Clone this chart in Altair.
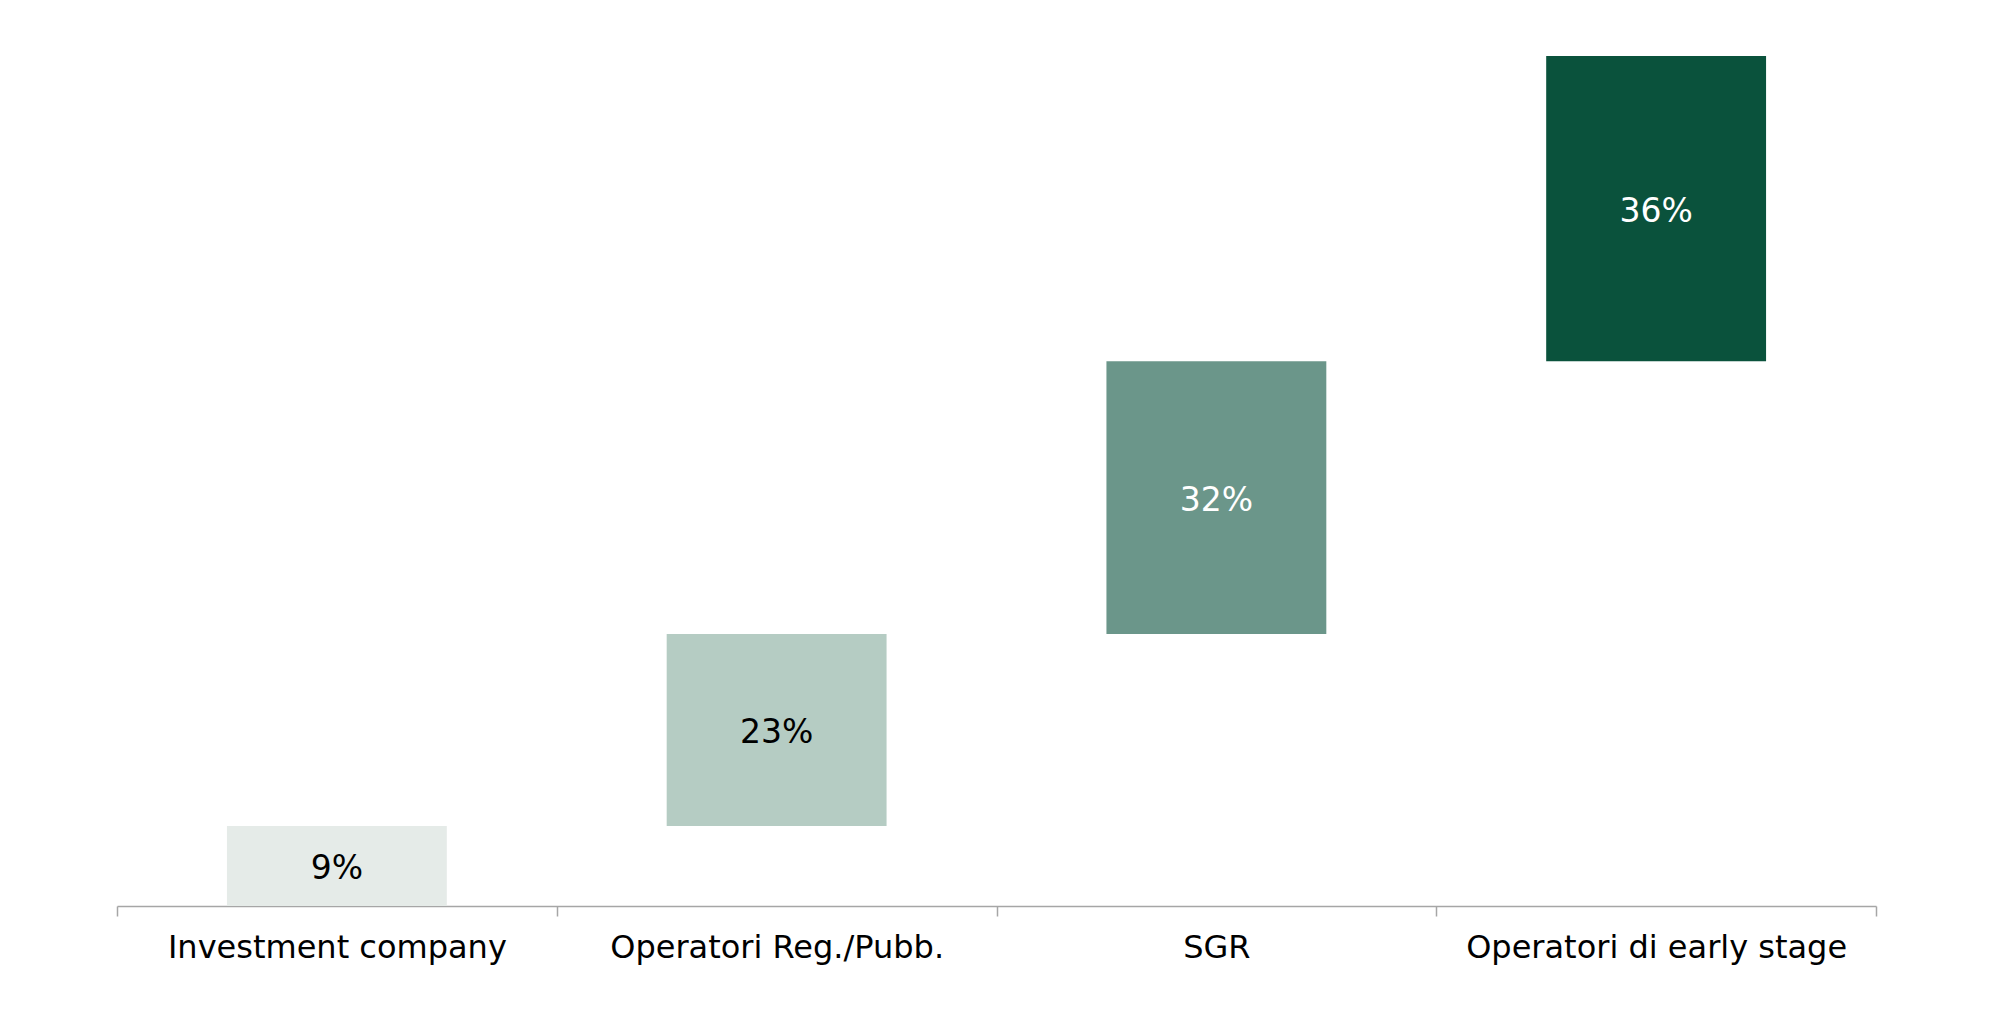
import altair as alt
import pandas as pd

categories = ["Investment company", "Operatori Reg./Pubb.", "SGR", "Operatori di early stage"]
values = [9.4, 22.6, 32.1, 35.9]
colors = ["#e5ebe8", "#b5ccc3", "#6b968a", "#0a523c"]
text_colors = ["#000000", "#000000", "#ffffff", "#ffffff"]

ends = pd.Series(values).cumsum()
starts = ends - pd.Series(values)
df = pd.DataFrame({
    "cat": categories,
    "value": values,
    "start": starts,
    "end": ends,
    "mid": (starts + ends) / 2,
    "tcolor": text_colors,
})
df["label"] = df["value"].round(0).astype(int).astype(str) + "%"

xscale = alt.Scale(paddingInner=0, paddingOuter=0)
x = alt.X("cat:N", sort=categories, title=None, scale=xscale,
          axis=alt.Axis(labelAngle=0, labelFont="DejaVu Sans", labelFontSize=32,
                        labelColor="#000000", labelPadding=16, labelLimit=600,
                        domainColor="#a6a6a6", domainWidth=1.5,
                        tickColor="#a6a6a6", tickWidth=1.5, tickSize=10,
                        tickBand="extent", grid=False))
yscale = alt.Scale(domain=[0, 100], nice=False)

bars = alt.Chart(df).mark_bar(width=alt.RelativeBandSize(0.5)).encode(
    x=x,
    y=alt.Y("start:Q", scale=yscale, axis=None),
    y2="end:Q",
    color=alt.Color("cat:N", sort=categories,
                    scale=alt.Scale(domain=categories, range=colors), legend=None),
)

labels = alt.Chart(df).mark_text(font="DejaVu Sans", fontSize=33, baseline="middle", dy=3).encode(
    x=alt.X("cat:N", sort=categories, scale=xscale),
    y=alt.Y("mid:Q", scale=yscale),
    text="label:N",
    color=alt.Color("tcolor:N", scale=None),
)

chart = (bars + labels).properties(
    width=1759, height=850,
    autosize=alt.AutoSizeParams(type="none"),
    padding={"left": 109, "top": 48, "right": 100, "bottom": 110},
    background="#ffffff",
).configure_view(stroke=None)

chart.save("out.html", embed_options={"renderer": "svg", "actions": False})
